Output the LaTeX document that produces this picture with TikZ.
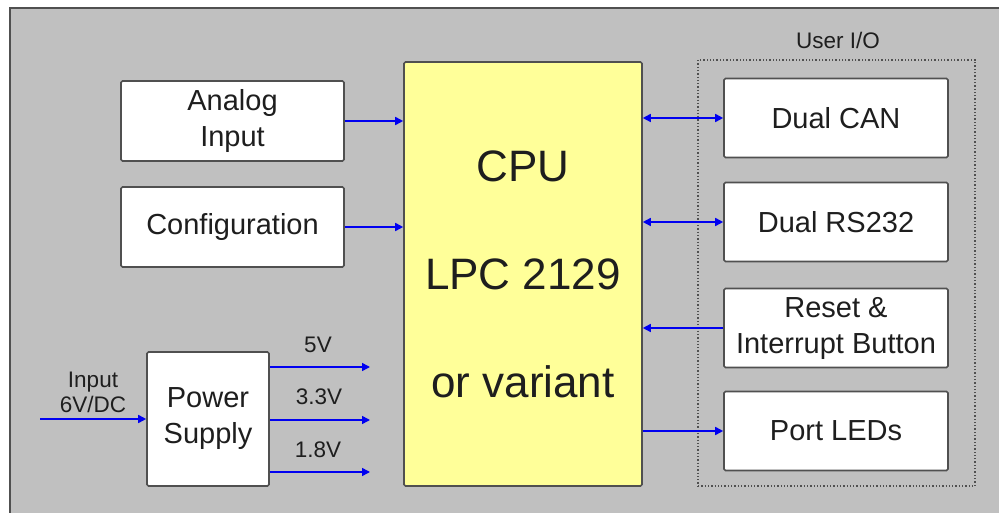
\documentclass[tikz,border=0pt]{standalone}
\usepackage{fontspec}
\setmainfont{Liberation Sans}
\usetikzlibrary{arrows.meta}
\definecolor{bggray}{HTML}{C0C0C0}
\definecolor{edgegray}{HTML}{505050}
\definecolor{cpuyellow}{HTML}{FFFF99}
\definecolor{txtdark}{HTML}{1E1E1E}
\definecolor{sigblue}{HTML}{0000F0}
\tikzset{
  blockbox/.style={draw=edgegray, line width=1.6pt, fill=white, rounded corners=1.5pt,
    inner sep=0pt, align=center, text=txtdark, font=\fontsize{29}{36}\selectfont},
  cpubox/.style={blockbox, fill=cpuyellow, font=\fontsize{44}{108}\selectfont},
  iobox/.style={draw=edgegray, line width=1.3pt, dotted, inner sep=0pt},
  smalllbl/.style={text=txtdark, inner sep=0pt, align=center, font=\fontsize{22.5}{25}\selectfont},
  sig/.style={draw=sigblue, line width=1.6pt, -{Triangle[length=8pt,width=8pt]}},
  bisig/.style={sig, {Triangle[length=8pt,width=8pt]}-{Triangle[length=8pt,width=8pt]}}
}
\begin{document}
\begin{tikzpicture}[x=1pt,y=-1pt]
    \useasboundingbox (0,0) rectangle (999,513);
    % background panel
    \fill[bggray] (10,8) rectangle (999,513);
    \draw[edgegray, line width=1.6pt] (10,513) -- (10,8) -- (999,8);
    % blocks
    \node[blockbox, minimum width=223, minimum height=80](anl)at(232.5,121){Analog\\Input};
    \node[blockbox, minimum width=223, minimum height=80](cfg)at(232.5,227){Configuration};
    \node[cpubox, minimum width=238, minimum height=424](cpu)at(523,274){CPU\\LPC 2129\\or variant};
    \node[blockbox, minimum width=122, minimum height=134](ps)at(208,419){Power\\Supply};
    % user I/O group
    \node[iobox, minimum width=277, minimum height=426](io)at(836.5,273){};
    \node[smalllbl](iolbl)at(838,40){User I/O};
    \node[blockbox, minimum width=224, minimum height=79](can)at(836,118){Dual CAN};
    \node[blockbox, minimum width=224, minimum height=79](rs)at(836,222){Dual RS232};
    \node[blockbox, minimum width=224, minimum height=79](rst)at(836,328){Reset \&\\Interrupt Button};
    \node[blockbox, minimum width=224, minimum height=79](led)at(836,431){Port LEDs};
    % power supply in/out
    \coordinate(vin)at(40,419);
    \coordinate(o5)at(370,367);
    \coordinate(o33)at(370,420);
    \coordinate(o18)at(370,472);
    \node[smalllbl](vinlbl)at(93,392){Input\\6V/DC};
    \node[smalllbl](l5)at(318,345){5V};
    \node[smalllbl](l33)at(319,397){3.3V};
    \node[smalllbl](l18)at(318,450){1.8V};
    % connectors
    \draw[sig](anl.east)--(anl.east -| cpu.west);
    \draw[sig](cfg.east)--(cfg.east -| cpu.west);
    \draw[bisig](cpu.east |- can.west)--(can.west);
    \draw[bisig](cpu.east |- rs.west)--(rs.west);
    \draw[sig](rst.west)--(rst.west -| cpu.east);
    \draw[sig](cpu.east |- led.west)--(led.west);
    \draw[sig](vin)--(ps.west);
    \draw[sig](ps.east |- o5)--(o5);
    \draw[sig](ps.east |- o33)--(o33);
    \draw[sig](ps.east |- o18)--(o18);
\end{tikzpicture}
\end{document}
